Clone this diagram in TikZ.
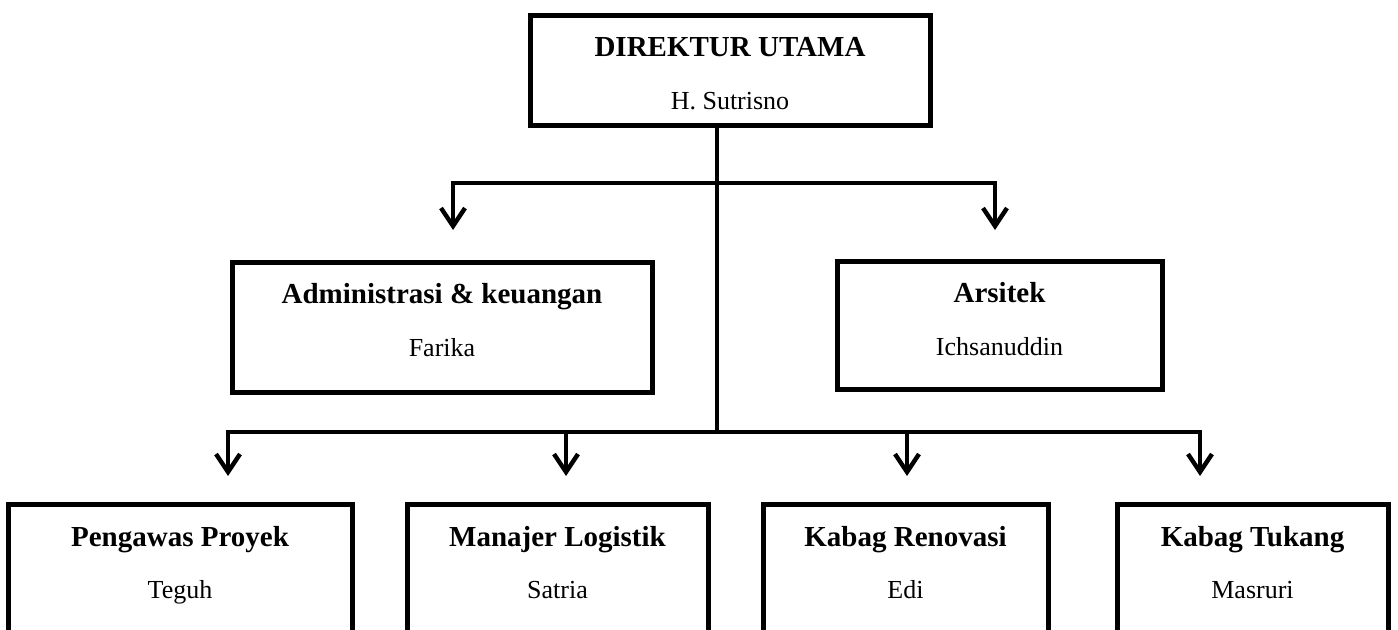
\documentclass[tikz,border=0pt]{standalone}
\usepackage{fontspec}
\setmainfont{Liberation Serif}
\usetikzlibrary{arrows.meta}

\tikzset{
  kotak/.style={draw, line width=2.5pt, inner sep=0pt, outer sep=0pt,
    anchor=north, align=flush center, text height=20.5pt,
    font=\fontsize{14.5pt}{26.25pt}\selectfont},
  panah/.style={line width=2.2pt, -{Straight Barb[length=9pt,width=12pt]}}
}
\newcommand{\jabatan}[2]{\textbf{#1}\\{\fontsize{13pt}{26.25pt}\selectfont #2}}

\begin{document}
\begin{tikzpicture}[x=0.5pt, y=-0.5pt]
  \useasboundingbox (0,0) rectangle (1398,630);
  \clip (0,0) rectangle (1398,630);

  \def\atas{505} % top of the lowest row
  \def\dalam{54.5pt} % lowest row runs off the page

  \node[kotak, text width=200pt, text depth=34.5pt] (direktur) at (730,16)
       {\jabatan{DIREKTUR UTAMA}{H. Sutrisno}};
  \node[kotak, text width=210pt, text depth=44.5pt] (admin) at (442,263)
       {\jabatan{Administrasi \& keuangan}{Farika}};
  \node[kotak, text width=162.5pt, text depth=43.5pt] (arsitek) at (999.5,262)
       {\jabatan{Arsitek}{Ichsanuddin}};

  \node[kotak, text width=172pt, text depth=\dalam] (pengawas) at (180,\atas)
       {\jabatan{Pengawas Proyek}{Teguh}};
  \node[kotak, text width=150.5pt, text depth=\dalam] (logistik) at (557.5,\atas)
       {\jabatan{Manajer Logistik}{Satria}};
  \node[kotak, text width=142.5pt, text depth=\dalam] (renovasi) at (905.5,\atas)
       {\jabatan{Kabag Renovasi}{Edi}};
  \node[kotak, text width=135.5pt, text depth=\dalam] (tukang) at (1252.5,\atas)
       {\jabatan{Kabag Tukang}{Masruri}};

  \coordinate (cabang1) at (717,183);
  \coordinate (cabang2) at (717,432);
  \coordinate (keAdmin) at (453,230);
  \coordinate (keArsitek) at (995,230);
  \coordinate (kePengawas) at (228,476);
  \coordinate (keLogistik) at (566,476);
  \coordinate (keRenovasi) at (907,476);
  \coordinate (keTukang) at (1200,476);

  \draw[line width=2.2pt] (direktur.south -| cabang1) -- (cabang2);
  \draw[panah] (cabang1) -| (keAdmin);
  \draw[panah] (cabang1) -| (keArsitek);
  \draw[panah] (cabang2) -| (kePengawas);
  \draw[panah] (cabang2) -| (keLogistik);
  \draw[panah] (cabang2) -| (keRenovasi);
  \draw[panah] (cabang2) -| (keTukang);
\end{tikzpicture}
\end{document}
